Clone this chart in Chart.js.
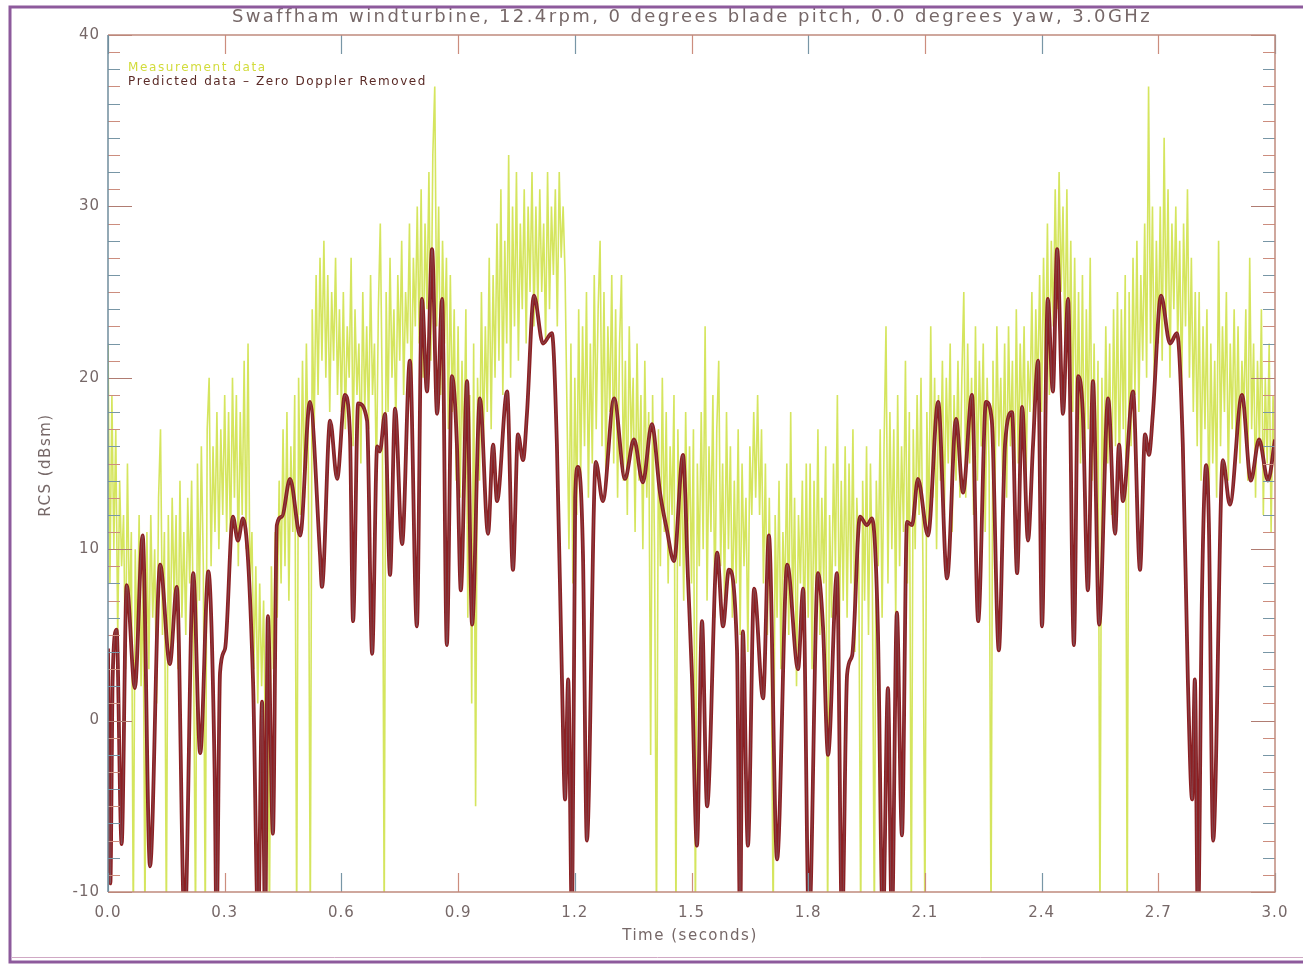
<!DOCTYPE html>
<html>
<head>
<meta charset="utf-8">
<title>Swaffham windturbine RCS</title>
<script src="https://cdn.jsdelivr.net/npm/chart.js@4.4.1/dist/chart.umd.min.js"></script>
<style>
  html, body { margin: 0; padding: 0; background: #ffffff; }
  canvas { display: block; }
</style>
</head>
<body>
<canvas id="rcsChart" width="1303" height="966"></canvas>
<script>
// Text
const TITLE = 'Swaffham windturbine, 12.4rpm, 0 degrees blade pitch, 0.0 degrees yaw, 3.0GHz';
const X_LABEL = 'Time (seconds)';
const Y_LABEL = 'RCS (dBsm)';
const SERIES_NAMES = ['Measurement data', 'Predicted data \u2013 Zero Doppler Removed'];

// Axis ticks
const X_TICKS = [0.0, 0.3, 0.6, 0.9, 1.2, 1.5, 1.8, 2.1, 2.4, 2.7, 3.0];
const Y_TICKS = [-10, 0, 10, 20, 30, 40];

// Measurement data, one sample every 5 ms (dBsm), rows of 0.1 s
const MEAS_DT = 0.005;
const measRcs = [
  22, 8, 19, 10, 17, 5, 14, 9, 12, 3, 15, 6, 11, -12, 10, 4, 12, 2, 9, -12,
  11, 3, 12, 6, 10, 1, 13, 17, 5, 11, -12, 12, 4, 13, 7, 12, 3, 14, 6, 11,
  5, 13, 8, 14, 4, -12, 15, 7, 16, 9, -12, 17, 20, 9, 16, 11, 18, 10, 17, 12,
  19, 11, 18, 10, 20, 13, 19, 9, 18, 12, 21, 10, 22, 8, 11, 3, 9, 1, 8, 2,
  7, -2, 6, -12, 9, 3, 11, 6, 14, 8, 17, 9, 18, 7, 16, 11, 19, -12, 20, 12,
  21, 13, 22, 15, -12, 24, 17, 26, 19, 27, 21, 28, 20, 26, 18, 25, 21, 27, 19, 24,
  18, 25, 17, 23, 20, 27, 16, 24, 19, 22, 15, 25, 18, 23, 17, 26, 19, 22, 14, 24,
  29, 19, -12, 25, 18, 27, 20, 24, 17, 26, 21, 28, 19, 25, 22, 29, 18, 27, 23, 30,
  22, 31, 20, 29, 24, 32, 21, 33, 37, 23, 30, 19, 28, 22, 27, 17, 26, 18, 24, 14,
  23, 13, 21, 15, 24, 6, 19, 1, 22, -5, 20, 14, 25, 16, 23, 18, 27, 17, 26, 20,
  29, 21, 31, 19, 28, 22, 33, 20, 30, 23, 32, 21, 29, 24, 31, 22, 30, 25, 32, 23,
  30, 24, 31, 25, 29, 22, 32, 24, 30, 26, 31, 23, 32, 27, 30, 26, 18, 10, 22, 8,
  20, 12, 24, 14, 23, 16, 25, 13, 22, 15, 26, 17, 24, 28, 16, 25, 14, 23, 18, 26,
  15, 24, 13, 22, 26, 14, 21, 12, 23, 16, 20, 11, 22, 14, 19, 10, 21, 13, 18, -2,
  19, 10, -12, 17, 9, 20, 11, 18, 8, 16, 12, 19, -12, 17, 9, 15, 7, 18, 10, 16,
  8, 17, -12, 15, 9, 18, 10, 23, 7, 16, 11, 19, 6, 17, 21, 9, 15, 7, 18, 10,
  16, 6, 14, 8, 17, 5, 15, 9, 13, 4, 16, 12, 18, 13, 19, 12, 17, 8, 15, 5,
  13, 4, -12, 12, 6, 14, 3, 11, 7, 15, 5, 18, 6, 13, 2, 12, 8, 14, 4, 15,
  6, 15, 3, 14, 7, 17, 5, 13, 8, 16, -12, 12, 6, 15, 9, 19, 5, 14, 7, 16,
  6, 15, 8, 17, 4, 13, 9, -12, 14, 7, 16, 5, 15, 8, -12, 14, 9, 17, 6, 16,
  23, 8, 18, 10, 17, 6, 19, 9, 16, 11, 21, 8, 18, -12, 17, 10, 19, 12, 20, 9,
  -12, 18, 11, 23, 13, 20, 10, 19, 14, 21, 12, 20, 15, 22, 11, 19, 14, 21, 13, 20,
  25, 13, 22, 15, 20, 12, 23, 14, 21, 16, 22, 11, 20, 15, -12, 21, 13, 23, 16, 20,
  14, 22, 13, 23, 16, 21, 12, 24, 15, 22, 17, 23, 14, 21, 18, 25, 16, 24, 19, 26,
  18, 27, 20, 29, 19, 28, 23, 31, 24, 32, 25, 30, 22, 31, 20, 28, 18, 27, 16, 25,
  15, 26, 13, 24, 17, 27, 14, 22, 12, 21, -12, 20, 13, 23, 15, 22, 12, 24, 16, 25,
  14, 24, 17, 26, -12, 25, 16, 27, 19, 28, 18, 26, 21, 29, 20, 37, 22, 30, 19, 28,
  22, 30, 21, 34, 23, 31, 20, 29, 24, 30, 22, 28, 19, 29, 23, 31, 20, 27, 18, 25,
  16, 25, 14, 23, 17, 24, 12, 22, 15, 21, 13, 28, 16, 23, 18, 25, 14, 22, 17, 24,
  16, 23, 15, 21, 18, 24, 14, 27, 17, 22, 13, 21, 16, 24, 12, 20, 15, 22, 11, 19,
  14
];

// Predicted data - turning points of the curve (seconds / dBsm)
const predTime = [
  0.000, 0.006, 0.012, 0.022, 0.035, 0.048, 0.069, 0.089, 0.108, 0.134,
  0.159, 0.177, 0.197, 0.219, 0.237, 0.258, 0.274, 0.279, 0.288, 0.301,
  0.321, 0.334, 0.347, 0.373, 0.386, 0.396, 0.404, 0.411, 0.424, 0.434,
  0.447, 0.468, 0.494, 0.519, 0.545, 0.550, 0.571, 0.589, 0.609, 0.622,
  0.630, 0.643, 0.666, 0.679, 0.692, 0.699, 0.712, 0.725, 0.738, 0.756,
  0.776, 0.794, 0.807, 0.820, 0.833, 0.846, 0.859, 0.871, 0.884, 0.897,
  0.907, 0.923, 0.936, 0.956, 0.977, 0.990, 1.000, 1.026, 1.041, 1.054,
  1.067, 1.077, 1.095, 1.118, 1.141, 1.154, 1.167, 1.175, 1.183, 1.193,
  1.201, 1.208, 1.221, 1.231, 1.254, 1.272, 1.301, 1.329, 1.352, 1.375,
  1.398, 1.419, 1.437, 1.455, 1.478, 1.491, 1.501, 1.514, 1.527, 1.540,
  1.566, 1.581, 1.596, 1.617, 1.625, 1.632, 1.645, 1.661, 1.684, 1.699,
  1.720, 1.746, 1.774, 1.787, 1.802, 1.825, 1.838, 1.851, 1.874, 1.887,
  1.900, 1.913, 1.933, 1.951, 1.964, 1.979, 1.992, 2.005, 2.015, 2.028,
  2.041, 2.054, 2.067, 2.082, 2.108, 2.134, 2.157, 2.180, 2.198, 2.221,
  2.237, 2.257, 2.272, 2.290, 2.306, 2.324, 2.337, 2.350, 2.365, 2.378,
  2.391, 2.401, 2.416, 2.429, 2.440, 2.455, 2.468, 2.483, 2.494, 2.506,
  2.519, 2.532, 2.548, 2.571, 2.589, 2.599, 2.609, 2.635, 2.653, 2.666,
  2.676, 2.686, 2.707, 2.730, 2.748, 2.763, 2.776, 2.787, 2.794, 2.802,
  2.812, 2.823, 2.830, 2.841, 2.866, 2.884, 2.915, 2.938, 2.959, 2.982,
  3.000
];
const predRcs = [
  4.2, -9.5, 2.5, 5.3, -7.2, 7.9, 1.9, 10.8, -8.5, 9.1,
  3.3, 7.8, -12, 8.6, -1.9, 8.7, -2.8, -12, 2.8, 4.2,
  11.9, 10.5, 11.8, 2.2, -12, 1.1, -12, 6.1, -6.6, 11.4,
  11.9, 14.1, 10.8, 18.6, 9.7, 7.8, 17.5, 14.1, 19.0, 16.7,
  5.8, 18.5, 17.5, 3.9, 16.0, 15.7, 17.9, 8.5, 18.2, 10.3,
  21.0, 5.5, 24.6, 19.2, 27.5, 17.9, 24.6, 4.4, 20.1, 16.1,
  7.6, 19.8, 5.6, 18.8, 10.9, 16.1, 12.8, 19.2, 8.8, 16.7,
  15.2, 17.9, 24.8, 22.0, 22.6, 16.1, 2.4, -4.6, 2.4, -12,
  13.0, 14.8, 9.7, -7.0, 15.1, 12.8, 18.8, 14.1, 16.4, 13.9,
  17.3, 13.3, 11.1, 9.3, 15.5, 8.3, 2.7, -7.3, 5.8, -5.0,
  9.8, 5.5, 8.8, 4.1, -12, 5.2, -7.3, 7.7, 1.3, 10.8,
  -8.1, 9.1, 3.0, 7.7, -12, 8.6, 5.5, -2.0, 8.6, -12,
  2.7, 3.8, 11.9, 11.4, 11.8, 5.5, -12, 1.9, -12, 6.3,
  -6.7, 11.6, 11.4, 14.1, 10.8, 18.6, 8.3, 17.6, 13.3, 19.0,
  5.8, 18.6, 17.5, 4.1, 16.1, 18.0, 8.6, 18.3, 10.5, 16.1,
  21.0, 5.5, 24.6, 19.2, 27.5, 17.9, 24.6, 4.4, 20.1, 17.9,
  7.6, 19.8, 5.6, 18.8, 10.9, 16.1, 12.8, 19.2, 8.8, 16.7,
  15.5, 17.9, 24.8, 22.0, 22.6, 16.1, 2.4, -4.6, 2.4, -12,
  7.0, 14.9, 11.5, -7.0, 15.2, 12.6, 19.0, 14.0, 16.4, 14.0,
  16.4
];

// Colours
const MEAS_COLOR = 'rgba(206, 224, 66, 0.85)';
const PRED_COLOR = '#8c1f22';
const PRED_EDGE = 'rgba(120, 150, 170, 0.4)';
const TEXT_COLOR = '#766868';
const FRAME_COLOR = '#c08a7e';
const LEFT_AXIS_COLOR = '#6f8d9c';
const TICK_COLORS = ['#7896a6', '#cc8d7e'];
const BORDER_COLOR = '#8d5a9c';

const FONT = 'DejaVu Sans, Verdana, sans-serif';

// Draws the IDL style box: inward ticks on all four sides, titles, legend text
const idlFrame = {
  id: 'idlFrame',
  beforeDraw(chart) {
    chart.ctx.letterSpacing = '1px';
  },
  afterDraw(chart) {
    const { ctx, chartArea: a, scales: { x, y } } = chart;
    ctx.save();

    // minor and major y ticks, both sides
    ctx.lineWidth = 1.2;
    for (let v = Y_TICKS[0]; v <= Y_TICKS[Y_TICKS.length - 1]; v++) {
      const py = Math.round(y.getPixelForValue(v)) + 0.5;
      const major = Y_TICKS.includes(v);
      const len = major ? 24 : 12;
      ctx.strokeStyle = major ? '#b07c72' : TICK_COLORS[(v + 20) % 2];
      ctx.beginPath();
      ctx.moveTo(a.left, py); ctx.lineTo(a.left + len, py);
      ctx.moveTo(a.right, py); ctx.lineTo(a.right - len, py);
      ctx.stroke();
    }
    // x ticks, top and bottom
    X_TICKS.forEach((v, i) => {
      const px = Math.round(x.getPixelForValue(v)) + 0.5;
      ctx.strokeStyle = TICK_COLORS[i % 2];
      ctx.beginPath();
      ctx.moveTo(px, a.bottom); ctx.lineTo(px, a.bottom - 19);
      ctx.moveTo(px, a.top); ctx.lineTo(px, a.top + 19);
      ctx.stroke();
    });

    // box
    ctx.lineWidth = 1.5;
    ctx.strokeStyle = FRAME_COLOR;
    ctx.beginPath();
    ctx.moveTo(a.left, a.top); ctx.lineTo(a.right, a.top);
    ctx.lineTo(a.right, a.bottom); ctx.lineTo(a.left, a.bottom);
    ctx.stroke();
    ctx.strokeStyle = LEFT_AXIS_COLOR;
    ctx.beginPath();
    ctx.moveTo(a.left, a.top); ctx.lineTo(a.left, a.bottom);
    ctx.stroke();

    // titles
    ctx.fillStyle = TEXT_COLOR;
    ctx.textBaseline = 'middle';
    ctx.textAlign = 'center';
    ctx.letterSpacing = '2.4px';
    ctx.font = '18px ' + FONT;
    ctx.fillText(TITLE, 692, 17);
    ctx.letterSpacing = '1.5px';
    ctx.font = '15px ' + FONT;
    ctx.fillText(X_LABEL, 690, 936);
    ctx.save();
    ctx.translate(46, 465);
    ctx.rotate(-Math.PI / 2);
    ctx.fillText(Y_LABEL, 0, 0);
    ctx.restore();

    // legend text inside the box
    ctx.textAlign = 'left';
    ctx.letterSpacing = '1.6px';
    ctx.font = '12px ' + FONT;
    ctx.fillStyle = '#d2dc3c';
    ctx.fillText(SERIES_NAMES[0], 128, 68);
    ctx.fillStyle = '#5a2a26';
    ctx.fillText(SERIES_NAMES[1], 128, 82);

    // purple picture border
    ctx.letterSpacing = '0px';
    ctx.lineWidth = 3;
    ctx.strokeStyle = BORDER_COLOR;
    ctx.strokeRect(10, 7, 1310, 955);
    ctx.lineWidth = 1;
    ctx.strokeStyle = '#d0a8c4';
    ctx.beginPath();
    ctx.moveTo(12, 957.5); ctx.lineTo(1303, 957.5);
    ctx.stroke();

    ctx.restore();
  }
};

const measPoints = measRcs.map((v, i) => ({ x: i * MEAS_DT, y: v }));
const predPoints = predTime.map((t, i) => ({ x: t, y: predRcs[i] }));

const ctx = document.getElementById('rcsChart').getContext('2d');
const rcsChart = new Chart(ctx, {
  type: 'line',
  data: {
    datasets: [
      {
        label: SERIES_NAMES[0],
        data: measPoints,
        borderColor: MEAS_COLOR,
        borderWidth: 1.6,
        pointRadius: 0,
        tension: 0,
        clip: 0,
        order: 3
      },
      {
        label: SERIES_NAMES[1],
        data: predPoints,
        borderColor: PRED_COLOR,
        borderWidth: 3.8,
        pointRadius: 0,
        cubicInterpolationMode: 'monotone',
        clip: 0,
        order: 2
      },
      {
        label: '',
        data: predPoints,
        borderColor: PRED_EDGE,
        borderWidth: 0.8,
        pointRadius: 0,
        cubicInterpolationMode: 'monotone',
        clip: 0,
        order: 1
      }
    ]
  },
  options: {
    responsive: false,
    animation: false,
    events: [],
    layout: { padding: { top: 35, right: 28, left: 0, bottom: 0 } },
    plugins: {
      legend: { display: false },
      title: { display: false },
      tooltip: { enabled: false }
    },
    scales: {
      x: {
        type: 'linear',
        min: 0,
        max: 3,
        afterBuildTicks: scale => { scale.ticks = X_TICKS.map(v => ({ value: v })); },
        afterFit: scale => { scale.height = 74; },
        grid: { display: false, drawTicks: false },
        border: { display: false },
        ticks: {
          padding: 12,
          color: TEXT_COLOR,
          font: { family: FONT, size: 15 },
          maxRotation: 0,
          autoSkip: false,
          callback: v => Number(v).toFixed(1)
        }
      },
      y: {
        type: 'linear',
        min: -10,
        max: 40,
        afterBuildTicks: scale => { scale.ticks = Y_TICKS.map(v => ({ value: v })); },
        afterFit: scale => { scale.width = 108; },
        grid: { display: false, drawTicks: false },
        border: { display: false },
        ticks: {
          padding: 8,
          color: TEXT_COLOR,
          font: { family: FONT, size: 15 },
          callback: v => String(v)
        }
      }
    }
  },
  plugins: [idlFrame]
});
</script>
</body>
</html>
